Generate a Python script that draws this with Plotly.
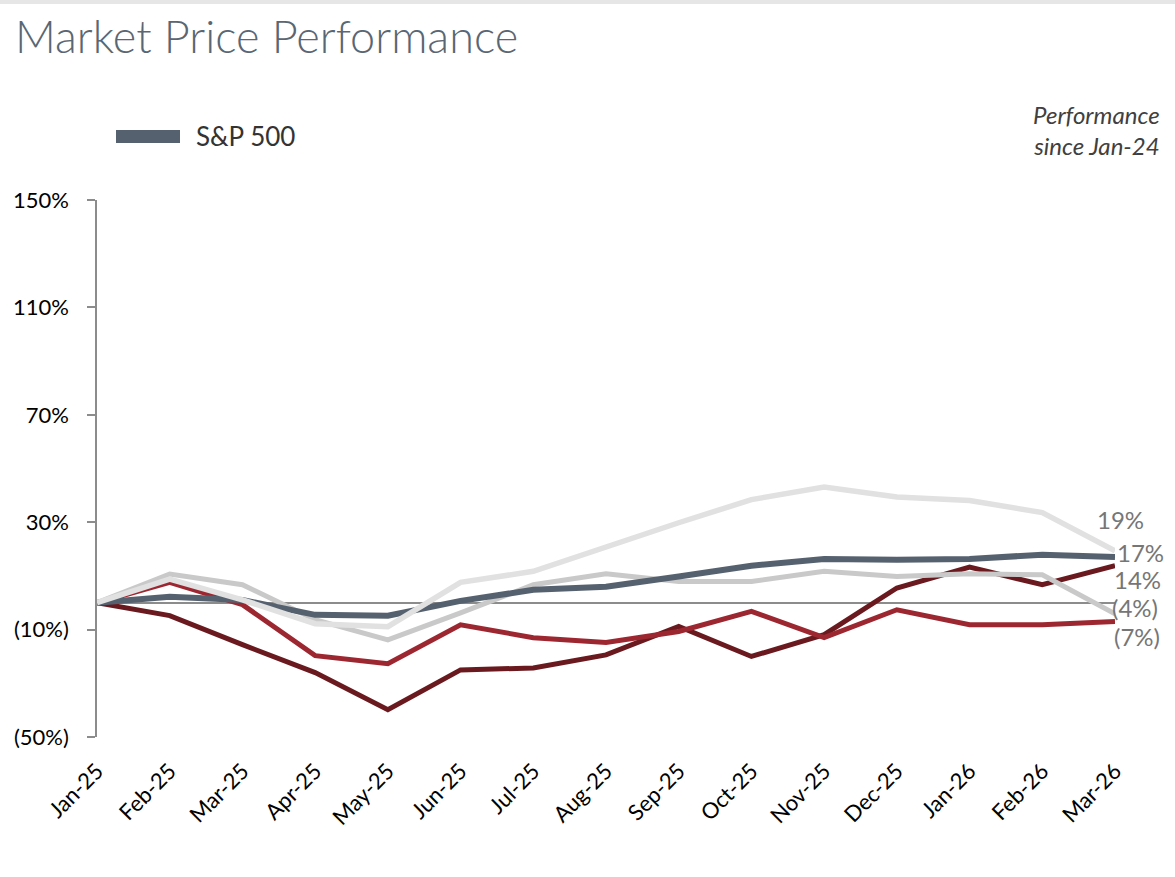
import plotly.graph_objects as go

months = ["Jan-25", "Feb-25", "Mar-25", "Apr-25", "May-25", "Jun-25", "Jul-25", "Aug-25",
          "Sep-25", "Oct-25", "Nov-25", "Dec-25", "Jan-26", "Feb-26", "Mar-26"]

sp500 = [0, 2.2, 1.0, -4.5, -4.8, 0.7, 4.8, 6.0, 9.8, 13.8, 16.3, 16.0, 16.3, 17.9, 17.0]
peer_light = [0, 8.8, 1.1, -7.8, -8.9, 7.6, 11.7, 20.9, 29.8, 38.4, 43.1, 39.4, 38.1, 33.6, 19.3]
peer_mid = [0, 10.7, 6.7, -6.3, -13.8, -3.8, 6.7, 10.8, 7.9, 7.9, 11.7, 9.8, 10.8, 10.4, -4.1]
peer_red = [0, 7.6, -0.7, -19.7, -22.7, -8.2, -13.0, -14.8, -10.7, -3.2, -13.0, -2.6, -8.2, -8.2, -7.0]
peer_maroon = [0, -4.8, -15.6, -26.0, -39.8, -25.0, -24.3, -19.4, -8.8, -20.0, -11.9, 5.5, 13.3, 6.7, 13.8]

y_ticks = [-50, -10, 30, 70, 110, 150]

W, H = 1175, 877
ML, MR, MT, MB = 97, 60, 200, 140
PW, PH = W - ML - MR, H - MT - MB


def px2x(px):
    return (px - ML) / PW


def py2y(py):
    return (H - MB - py) / PH


def pct(v):
    v = round(v)
    return f"({abs(v)}%)" if v < 0 else f"{v}%"


FONT = "Lato, 'Open Sans', sans-serif"

series = [
    ("Peer 4", peer_maroon, "#6a1a1e", 5, (22, -14)),
    ("Peer 3", peer_red, "#9d2730", 5, (22, -15)),
    ("Peer 2", peer_mid, "#c9c9c9", 5, (20, 6)),
    ("S&P 500", sp500, "#56616f", 6, (25, 5)),
    ("Peer 1", peer_light, "#e1e1e1", 5.5, (5, 31)),
]

fig = go.Figure()
for name, vals, color, width, _ in series:
    fig.add_trace(go.Scatter(x=months, y=vals, mode="lines", name=name,
                             line=dict(color=color, width=width),
                             showlegend=False, hoverinfo="skip"))

annotations = []
for name, vals, color, width, (xs, ys) in series:
    annotations.append(dict(x=months[-1], y=vals[-1], xref="x", yref="y",
                            text=pct(vals[-1]), showarrow=False,
                            xanchor="center", yanchor="middle",
                            xshift=xs, yshift=ys,
                            font=dict(family=FONT, size=24, color="#767676")))

# performance note
annotations.append(dict(x=px2x(1162), y=py2y(130), xref="paper", yref="paper",
                        text="Performance<br>since Jan-24", showarrow=False,
                        xanchor="right", yanchor="middle", align="right",
                        font=dict(family=FONT, size=24, color="#404040", style="italic")))
# legend text
annotations.append(dict(x=px2x(194), y=py2y(136), xref="paper", yref="paper",
                        text="S&P 500", showarrow=False, xanchor="left", yanchor="middle",
                        font=dict(family=FONT, size=26, color="#333333")))

shapes = [
    dict(type="rect", xref="paper", yref="paper",
         x0=px2x(116), x1=px2x(180), y0=py2y(143), y1=py2y(130),
         fillcolor="#56616f", line=dict(width=0)),
    dict(type="rect", xref="paper", yref="paper",
         x0=px2x(0), x1=px2x(W), y0=py2y(4), y1=py2y(0),
         fillcolor="#e6e6e6", line=dict(width=0)),
]

fig.update_layout(
    width=W, height=H,
    margin=dict(l=ML, r=MR, t=MT, b=MB),
    paper_bgcolor="white", plot_bgcolor="white",
    title=dict(text="Market Price Performance", xref="container", yref="container",
               x=15 / W, y=1 - 37 / H, xanchor="left", yanchor="middle",
               font=dict(family=FONT, size=45, color="#596673", weight=300)),
    annotations=annotations,
    shapes=shapes,
    xaxis=dict(type="category", range=[0, len(months) - 1], showgrid=False,
               showline=False, ticks="", tickangle=-45,
               tickfont=dict(family=FONT, size=22, color="#000000"),
               ticklabelstandoff=16),
    yaxis=dict(range=[-50, 150], tickvals=y_ticks, ticktext=[pct(v) for v in y_ticks],
               showgrid=False, showline=True, linecolor="#8c8c8c", linewidth=1.5,
               ticks="outside", ticklen=8, tickcolor="#8c8c8c", tickwidth=1.5,
               zeroline=True, zerolinecolor="#8c8c8c", zerolinewidth=1.5,
               tickfont=dict(family=FONT, size=22, color="#000000"),
               ticklabelstandoff=14),
)

fig.write_html("out.html", config={"displayModeBar": False},
               post_script="document.body.style.margin='0px';")
